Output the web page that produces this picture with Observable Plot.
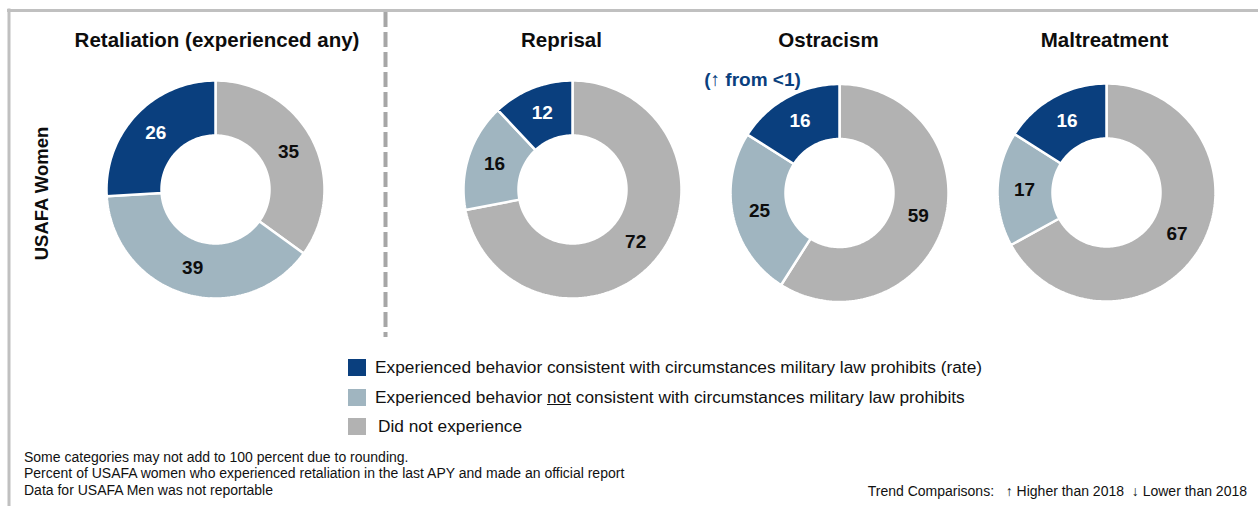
<!DOCTYPE html>
<html><head><meta charset="utf-8">
<script src="https://cdn.jsdelivr.net/npm/d3@7"></script>
<script src="https://cdn.jsdelivr.net/npm/@observablehq/plot@0.6"></script>
<style>
html,body{margin:0;padding:0;background:#fff;}
#wrap{position:relative;width:1258px;height:506px;overflow:hidden;font-family:"Liberation Sans",Arial,sans-serif;color:#111;}
#wrap svg{position:absolute;left:0;top:0;}
.legend{position:absolute;left:348px;top:353px;font-size:17.3px;}
.legend .row{display:flex;align-items:center;height:29.5px;}
.legend .sw{width:18px;height:17px;margin-right:9px;flex:none;}
.notes{position:absolute;left:24px;top:449px;font-size:14px;line-height:16.3px;}
.trend{position:absolute;right:11px;top:483px;font-size:14px;line-height:16px;white-space:pre;}
</style></head><body><div id="wrap"></div>
<script>
// ---- data ----
const panels = ["Retaliation (experienced any)", "Reprisal", "Ostracism", "Maltreatment"];
const categories = [
  "Did not experience",
  "Experienced behavior not consistent with circumstances military law prohibits",
  "Experienced behavior consistent with circumstances military law prohibits (rate)"
];
const didNotExperience = [35, 72, 59, 67];
const notConsistent = [39, 16, 25, 17];
const consistentRate = [26, 12, 16, 16];
const trendNotes = ["", "", "(\u2191 from <1)", ""];
const rowLabel = "USAFA Women";
const legendOrder = [2, 1, 0];
const footnotes = [
  "Some categories may not add to 100 percent due to rounding.",
  "Percent of USAFA women who experienced retaliation in the last APY and made an official report",
  "Data for USAFA Men was not reportable"
];
const trendLegend = ["Trend Comparisons:", "\u2191 Higher than 2018", "\u2193 Lower than 2018"];

// ---- layout / style ----
const W = 1258, H = 506;
const centers = [[215, 189], [572, 189], [839, 192.5], [1106, 192]];
const titleX = [216.5, 561, 828, 1104];
const titleY = 40;
const noteOffset = [-87, -113];
const rOuter = 109, rInner = 54, rLabel = 82;
const colors = ["#b2b2b2", "#a0b5c0", "#0a3f7e"];
const ink = "#0d0d0d";

// ---- derived geometry ----
const series = [didNotExperience, notConsistent, consistentRate];
const slices = [], points = [];
panels.forEach((p, i) => {
  const vals = series.map(s => s[i]);
  const total = d3.sum(vals);
  const [cx, cy] = centers[i];
  let cum = 0;
  vals.forEach((v, k) => {
    const a0 = cum / total * 2 * Math.PI; cum += v; const a1 = cum / total * 2 * Math.PI;
    const id = i + "-" + k;
    const n = Math.max(2, Math.ceil((a1 - a0) / (2 * Math.PI) * 240));
    for (let j = 0; j <= n; j++) { const a = a0 + (a1 - a0) * j / n; points.push({id, category: categories[k], x: cx + rOuter * Math.sin(a), y: cy - rOuter * Math.cos(a)}); }
    for (let j = n; j >= 0; j--) { const a = a0 + (a1 - a0) * j / n; points.push({id, category: categories[k], x: cx + rInner * Math.sin(a), y: cy - rInner * Math.cos(a)}); }
    const am = (a0 + a1) / 2;
    slices.push({panel: p, category: categories[k], k, value: v, x: cx + rLabel * Math.sin(am), y: cy - rLabel * Math.cos(am)});
  });
});
const notes = trendNotes.map((t, i) => ({t, x: centers[i][0] + noteOffset[0], y: centers[i][1] + noteOffset[1]})).filter(d => d.t);

const chart = Plot.plot({
  width: W, height: H, margin: 0,
  x: {domain: [0, W], range: [0, W], axis: null},
  y: {domain: [0, H], range: [0, H], axis: null},
  color: {domain: categories, range: colors},
  style: {fontFamily: '"Liberation Sans", Arial, sans-serif', background: "transparent"},
  marks: [
    Plot.ruleY([10], {x1: 7, x2: W, stroke: "#c0c0c0", strokeWidth: 3}),
    Plot.ruleX([8.5], {y1: 8.5, y2: H, stroke: "#c0c0c0", strokeWidth: 3}),
    Plot.ruleX([385], {y1: 12, y2: 337, stroke: "#a6a6a6", strokeWidth: 4, strokeDasharray: "15,5"}),
    Plot.line(points, {x: "x", y: "y", z: "id", fill: "category", stroke: "white", strokeWidth: 2.5, strokeLinejoin: "miter", curve: "linear-closed"}),
    Plot.text(slices.filter(d => d.k === 2), {x: "x", y: "y", text: "value", fill: "white", fontWeight: "bold", fontSize: 19}),
    Plot.text(slices.filter(d => d.k !== 2), {x: "x", y: "y", text: "value", fill: ink, fontWeight: "bold", fontSize: 19}),
    Plot.text(panels, {x: (d, i) => titleX[i], y: titleY, text: d => d, fill: ink, fontWeight: "bold", fontSize: 20.5}),
    Plot.text(notes, {x: "x", y: "y", text: "t", fill: colors[2], fontWeight: "bold", fontSize: 19}),
    Plot.text([rowLabel], {x: 42, y: 193, text: d => d, rotate: -90, fill: ink, fontWeight: "bold", fontSize: 18.5})
  ]
});

const wrap = document.getElementById("wrap");
wrap.appendChild(chart);

// legend (uses the chart's colour scale)
const colorScale = chart.scale("color");
const legend = document.createElement("div");
legend.className = "legend";
legendOrder.forEach(k => {
  const row = document.createElement("div"); row.className = "row";
  const sw = document.createElement("div"); sw.className = "sw";
  sw.style.background = colorScale.range[colorScale.domain.indexOf(categories[k])];
  const lab = document.createElement("span");
  const txt = categories[k];
  if (k === 1) {
    const parts = txt.split(" not ");
    lab.append(parts[0] + " ");
    const u = document.createElement("u"); u.textContent = "not"; lab.append(u);
    lab.append(" " + parts.slice(1).join(" not "));
  } else lab.textContent = txt;
  if (k === 0) sw.style.marginRight = "12px";
  row.append(sw, lab);
  legend.appendChild(row);
});
wrap.appendChild(legend);

const notesDiv = document.createElement("div");
notesDiv.className = "notes";
footnotes.forEach(f => { const d = document.createElement("div"); d.textContent = f; notesDiv.appendChild(d); });
wrap.appendChild(notesDiv);

const trend = document.createElement("div");
trend.className = "trend";
trend.textContent = trendLegend[0] + "   " + trendLegend[1] + "  " + trendLegend[2];
wrap.appendChild(trend);
</script>
</body></html>
